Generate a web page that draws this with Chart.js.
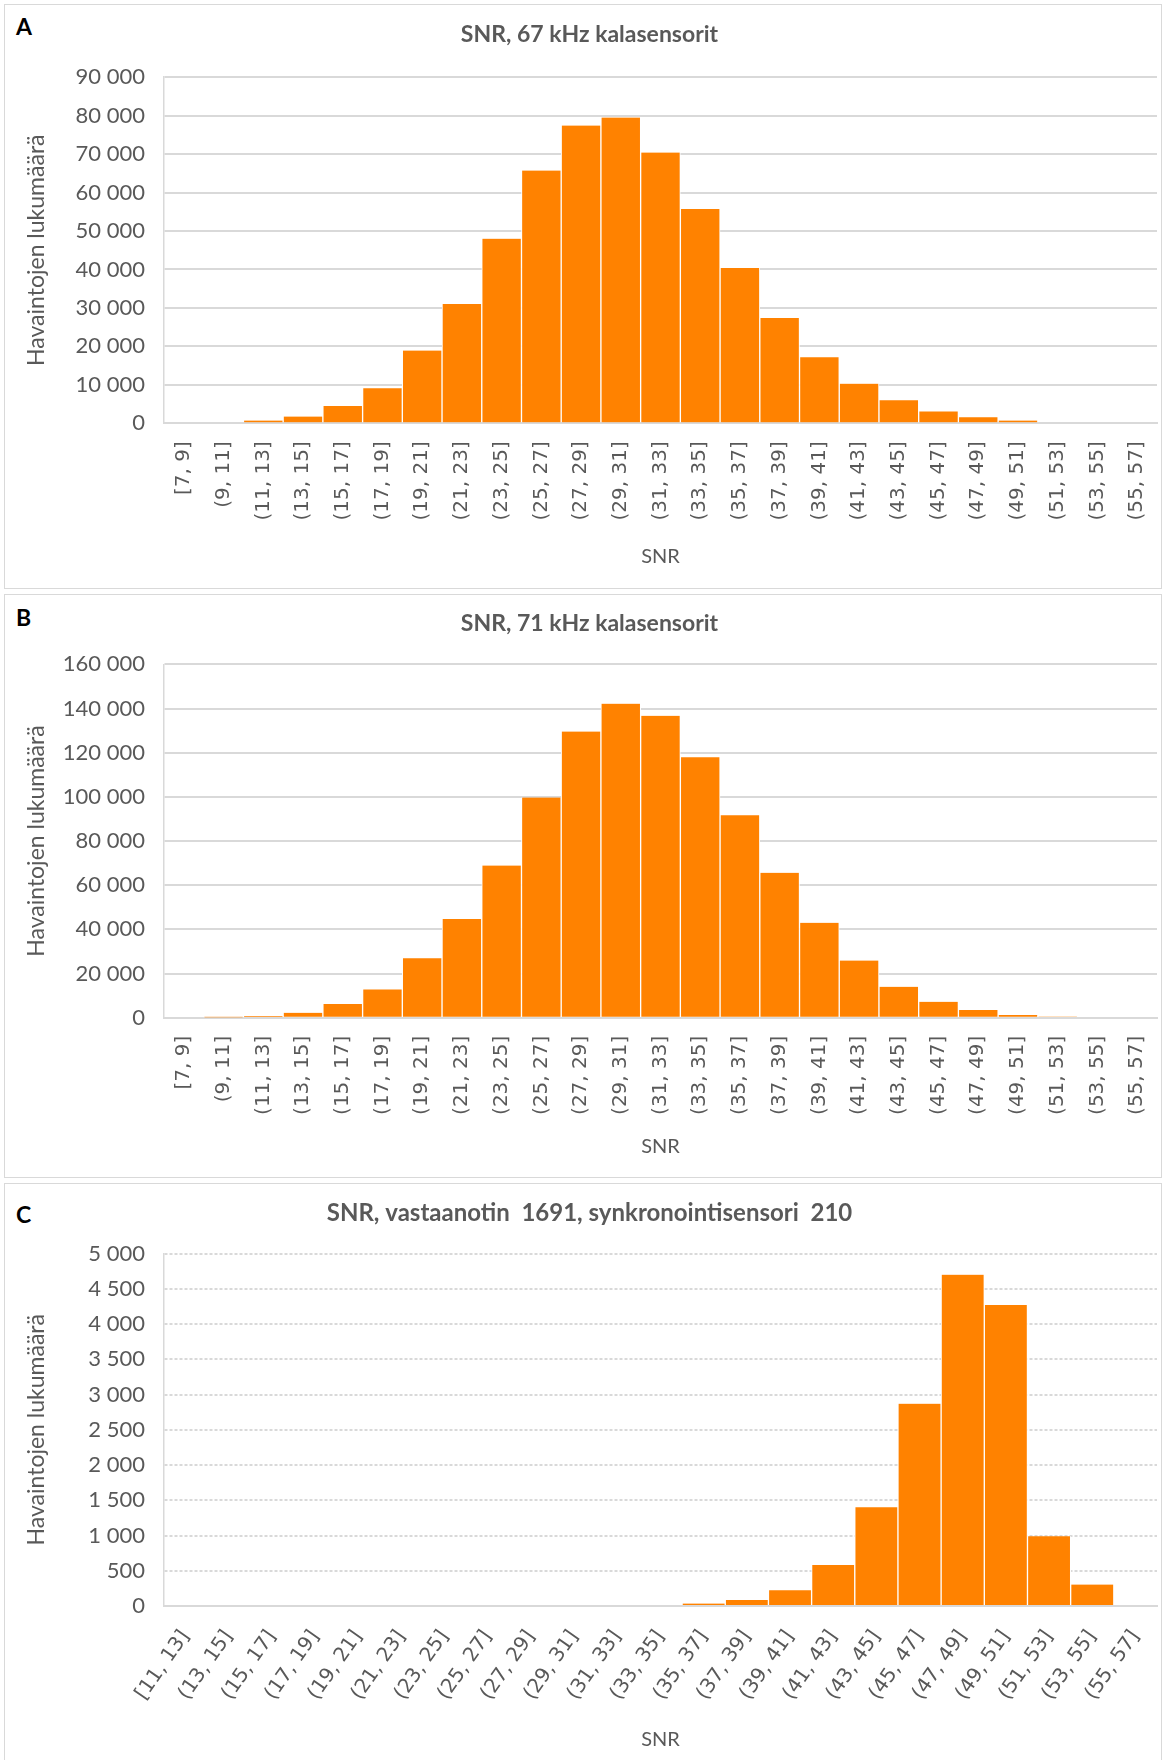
<!DOCTYPE html>
<html>
<head>
<meta charset="utf-8">
<script src="https://cdn.jsdelivr.net/npm/chart.js@4"></script>
<style>
  body { margin: 0; width: 1165px; height: 1760px; overflow: hidden; background: #fff; font-family: Lato, sans-serif; }
  .panel { position: absolute; left: 4px; width: 1158px; border: 1.5px solid #d9d9d9; box-sizing: border-box; }
  .letter { position: absolute; left: 16px; font-size: 23px; line-height: 23px; font-weight: bold; color: #000; }
  canvas { position: absolute; left: 0; }
</style>
</head>
<body>
<div class="panel" style="top:4px;height:585px"></div>
<div class="panel" style="top:594px;height:584px"></div>
<div class="panel" style="top:1183px;height:600px"></div>
<div class="letter" style="top:15px">A</div>
<div class="letter" style="top:606px">B</div>
<div class="letter" style="top:1203px">C</div>
<canvas id="chartA" width="1165" height="590" style="top:0px"></canvas>
<canvas id="chartB" width="1165" height="590" style="top:590px"></canvas>
<canvas id="chartC" width="1165" height="580" style="top:1180px"></canvas>
<script>
// SNR bins
const binsAB = ['[7, 9]', '(9, 11]', '(11, 13]', '(13, 15]', '(15, 17]', '(17, 19]', '(19, 21]',
  '(21, 23]', '(23, 25]', '(25, 27]', '(27, 29]', '(29, 31]', '(31, 33]', '(33, 35]', '(35, 37]',
  '(37, 39]', '(39, 41]', '(41, 43]', '(43, 45]', '(45, 47]', '(47, 49]', '(49, 51]', '(51, 53]',
  '(53, 55]', '(55, 57]'];
const binsC = ['[11, 13]', '(13, 15]', '(15, 17]', '(17, 19]', '(19, 21]', '(21, 23]', '(23, 25]',
  '(25, 27]', '(27, 29]', '(29, 31]', '(31, 33]', '(33, 35]', '(35, 37]', '(37, 39]', '(39, 41]',
  '(41, 43]', '(43, 45]', '(45, 47]', '(47, 49]', '(49, 51]', '(51, 53]', '(53, 55]', '(55, 57]'];

// observation counts per bin
const counts67 = [0, 0, 700, 1750, 4500, 9100, 18900, 31000, 48000, 65700, 77400, 79500, 70400,
  55700, 40400, 27400, 17200, 10300, 6000, 3100, 1550, 700, 0, 0, 0];
const counts71 = [0, 100, 750, 2250, 6200, 12800, 26900, 44700, 68900, 99700, 129600, 142200,
  136700, 118000, 91700, 65600, 43000, 25900, 14000, 7200, 3500, 1200, 600, 0, 0];
const counts1691 = [0, 0, 0, 0, 0, 0, 0, 0, 0, 0, 0, 0, 35, 85, 225, 580, 1400, 2870, 4700, 4270,
  990, 305, 0];

const titles = ['SNR, 67 kHz kalasensorit', 'SNR, 71 kHz kalasensorit',
  'SNR, vastaanotin  1691, synkronointisensori  210'];
const yTitle = 'Havaintojen lukumäärä';
const xTitle = 'SNR';

const orange = '#ff8200';
const grey = '#595959';
const gridGrey = '#d9d9d9';

function fmt(v) {
  return String(v).replace(/\B(?=(\d{3})+(?!\d))/g, ' ');
}

function histogram(id, labels, values, o) {
  return new Chart(document.getElementById(id), {
    type: 'bar',
    data: {
      labels,
      datasets: [{
        data: values,
        backgroundColor: orange,
        borderColor: '#ffffff',
        borderWidth: { left: 1, right: 1, top: 0, bottom: 0 },
        barPercentage: 1,
        categoryPercentage: 1
      }]
    },
    options: {
      responsive: false,
      animation: false,
      layout: { padding: { left: 22, right: 8, top: 0, bottom: 0 } },
      plugins: {
        legend: { display: false },
        tooltip: { enabled: false },
        title: {
          display: true,
          text: o.title,
          color: grey,
          font: { family: 'Lato', size: o.titleSize, weight: 'bold' },
          padding: { top: o.titleTop, bottom: o.titleBottom }
        }
      },
      scales: {
        x: {
          grid: { display: false, drawTicks: false },
          border: { color: gridGrey, width: 2 },
          ticks: {
            autoSkip: false,
            minRotation: o.rotation,
            maxRotation: o.rotation,
            padding: o.tickPad,
            color: grey,
            font: { family: 'DejaVu Sans', size: 20 }
          },
          title: {
            display: true,
            text: xTitle,
            color: grey,
            font: { family: 'Lato', size: 20 },
            padding: { top: 0, bottom: o.snrPad }
          },
          afterFit: s => {
            s.height = o.xHeight;
            s.paddingLeft = 0;
            s.paddingRight = 0;
          }
        },
        y: {
          min: 0,
          max: o.max,
          ticks: {
            stepSize: o.step,
            padding: 19,
            color: grey,
            font: { family: 'Lato', size: 22 },
            callback: v => fmt(v)
          },
          grid: { color: gridGrey, lineWidth: 2, drawTicks: false },
          border: { display: true, color: gridGrey, width: 1.5, dash: o.dash },
          title: {
            display: true,
            text: yTitle,
            color: grey,
            font: { family: 'Lato', size: 23 },
            padding: { top: 1, bottom: 0 }
          },
          afterFit: s => { s.width = 142; }
        }
      }
    }
  });
}

histogram('chartA', binsAB, counts67, {
  title: titles[0], titleSize: 23, titleTop: 21, titleBottom: 28.5, max: 90000, step: 10000,
  rotation: 90, tickPad: 18, xHeight: 166.7, snrPad: 21.3, dash: []
});
histogram('chartB', binsAB, counts71, {
  title: titles[1], titleSize: 23, titleTop: 19.4, titleBottom: 27.4, max: 160000, step: 20000,
  rotation: 90, tickPad: 18, xHeight: 162.3, snrPad: 21.3, dash: []
});
histogram('chartC', binsC, counts1691, {
  title: titles[2], titleSize: 24, titleTop: 19.2, titleBottom: 25.5, max: 5000, step: 500,
  rotation: 55, tickPad: 20, xHeight: 154, snrPad: 8, dash: [3, 2]
});
</script>
</body>
</html>
